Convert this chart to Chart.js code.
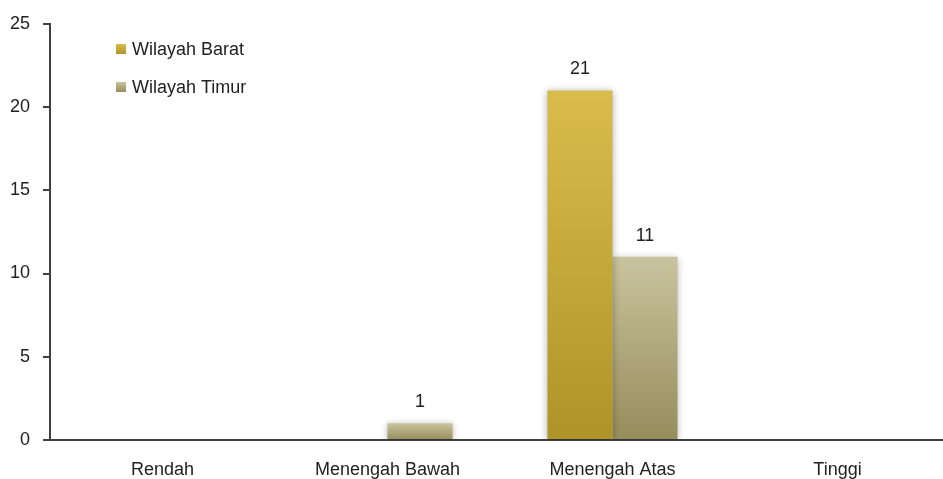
<!DOCTYPE html>
<html>
<head>
<meta charset="utf-8">
<script src="https://cdn.jsdelivr.net/npm/chart.js@4/dist/chart.umd.min.js"></script>
<style>
  html, body { margin: 0; padding: 0; background: #ffffff; overflow: hidden; }
  #wrap { width: 943px; height: 479px; position: relative; overflow: hidden; }
  #c { display: block; }
</style>
</head>
<body>
<div id="wrap"><canvas id="c" width="950" height="479"></canvas></div>
<script>
// Categories and series
const categories = ['Rendah', 'Menengah Bawah', 'Menengah Atas', 'Tinggi'];
const seriesNames = ['Wilayah Barat', 'Wilayah Timur'];
const barat = [0, 0, 21, 0];
const timur = [0, 1, 11, 0];
const yTicks = [0, 5, 10, 15, 20, 25];

// Gradient stops (top, bottom) per series
const palettes = [
  ['#d9bc4c', '#ae9428'],
  ['#c9c39e', '#968d5c']
];

const FONT = "'Liberation Sans', Arial, sans-serif";
const TEXT = '#222222';
const AXIS = '#404040';

function barGradient(ctx) {
  const chart = ctx.chart;
  const pal = palettes[ctx.datasetIndex];
  const y = chart.scales.y;
  if (!y || ctx.type !== 'data') return pal[0];
  const v = ctx.raw || 0;
  const top = y.getPixelForValue(v);
  const base = y.getPixelForValue(0);
  if (!isFinite(top) || !isFinite(base) || Math.abs(base - top) < 1) return pal[0];
  const g = chart.ctx.createLinearGradient(0, top, 0, base);
  g.addColorStop(0, pal[0]);
  g.addColorStop(1, pal[1]);
  return g;
}

// Soft shadow around the bars
const shadowPlugin = {
  id: 'barShadow',
  beforeDatasetsDraw(chart) {
    const c = chart.ctx;
    c.save();
    c.shadowColor = 'rgba(0,0,0,0.30)';
    c.shadowBlur = 7;
    c.shadowOffsetX = 0;
    c.shadowOffsetY = 1;
  },
  afterDatasetsDraw(chart) {
    chart.ctx.restore();
  }
};

// Value labels above non-zero bars
const valueLabels = {
  id: 'valueLabels',
  afterDatasetsDraw(chart) {
    const c = chart.ctx;
    c.save();
    c.font = '18px ' + FONT;
    c.fillStyle = TEXT;
    c.textAlign = 'center';
    c.textBaseline = 'bottom';
    chart.data.datasets.forEach((ds, di) => {
      const meta = chart.getDatasetMeta(di);
      meta.data.forEach((bar, i) => {
        const v = ds.data[i];
        if (!v) return;
        c.fillText(String(v), bar.x, bar.y - 12);
      });
    });
    c.restore();
  }
};

// Legend drawn inside the plot area, top-left
const insideLegend = {
  id: 'insideLegend',
  afterDraw(chart) {
    const c = chart.ctx;
    c.save();
    c.font = '18px ' + FONT;
    c.textBaseline = 'middle';
    c.textAlign = 'left';
    const x0 = 116, y0 = 49, step = 38, box = 10;
    chart.data.datasets.forEach((ds, i) => {
      const y = y0 + i * step;
      const pal = palettes[i];
      const g = c.createLinearGradient(0, y - box / 2, 0, y + box / 2);
      g.addColorStop(0, pal[0]);
      g.addColorStop(1, pal[1]);
      c.fillStyle = g;
      c.fillRect(x0, y - box / 2, box, box);
      c.fillStyle = TEXT;
      c.fillText(ds.label, x0 + 16, y + 1);
    });
    c.restore();
  }
};

new Chart(document.getElementById('c'), {
  type: 'bar',
  data: {
    labels: categories,
    datasets: [
      { label: seriesNames[0], data: barat, backgroundColor: barGradient },
      { label: seriesNames[1], data: timur, backgroundColor: barGradient }
    ]
  },
  options: {
    responsive: false,
    animation: false,
    devicePixelRatio: 1,
    layout: { padding: { top: 22, right: 0, left: 0, bottom: 0 } },
    datasets: {
      bar: { categoryPercentage: 0.578, barPercentage: 1.0, borderWidth: 0 }
    },
    plugins: {
      legend: { display: false },
      tooltip: { enabled: false }
    },
    scales: {
      x: {
        grid: { display: false, drawTicks: false },
        border: { display: true, color: AXIS, width: 2 },
        ticks: { color: TEXT, font: { family: FONT, size: 18 }, padding: 19, maxRotation: 0 },
        afterFit(s) { s.height = 39; }
      },
      y: {
        min: 0,
        max: 25,
        afterBuildTicks(s) { s.ticks = yTicks.map(v => ({ value: v })); },
        grid: { drawOnChartArea: false, drawTicks: true, tickLength: 7, color: AXIS, lineWidth: 2 },
        border: { display: true, color: AXIS, width: 2 },
        ticks: { color: TEXT, font: { family: FONT, size: 18 }, padding: 13 },
        afterFit(s) { s.width = 50; }
      }
    }
  },
  plugins: [shadowPlugin, valueLabels, insideLegend]
});
</script>
</body>
</html>
